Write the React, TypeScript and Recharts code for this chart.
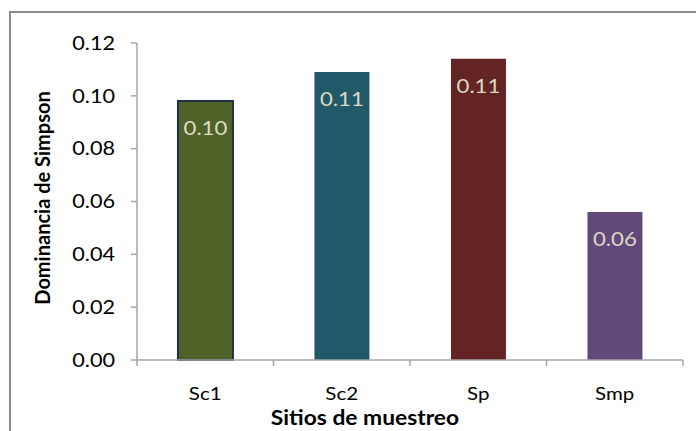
import React from "react";
import { BarChart, Bar, XAxis, YAxis, Cell, LabelList } from "recharts";

const sites = ["Sc1", "Sc2", "Sp", "Smp"];
const dominance = [0.098, 0.109, 0.114, 0.056];
const barColors = ["#4f6228", "#215968", "#632523", "#604a7b"];
const yTicks = [0, 0.02, 0.04, 0.06, 0.08, 0.1, 0.12];

const data = sites.map((site, i) => ({ site, value: dominance[i] }));

const W = 696;
const H = 431;
const PLOT_LEFT = 137;
const PLOT_RIGHT = 683;
const PLOT_TOP = 43;
const PLOT_BOTTOM = 360;
const Y_AXIS_W = 80;
const X_AXIS_H = 60;
const FONT = "Lato, 'Open Sans', sans-serif";
const AXIS_GRAY = "#a6a6a6";
const STRETCH = 1.14;

const band = (PLOT_RIGHT - PLOT_LEFT) / sites.length;

// horizontal text is drawn a little wider than the font, scaled about its anchor x
const widen = (x: number) => `matrix(${STRETCH},0,0,1,${x - STRETCH * x},0)`;

function ValueTick(props: any) {
  const { x, y, payload } = props;
  return (
    <text x={x} y={y} dy="0.36em" textAnchor="end" fontSize={19} fill="#000" fontFamily={FONT} transform={widen(x)}>
      {Number(payload.value).toFixed(2)}
    </text>
  );
}

// category label plus Excel-style tick marks on the band edges
function SiteTick(props: any) {
  const { x, payload, index } = props;
  const left = x - band / 2;
  return (
    <g>
      <line x1={left} y1={PLOT_BOTTOM} x2={left} y2={PLOT_BOTTOM + 6} stroke={AXIS_GRAY} strokeWidth={1.5} />
      {index === sites.length - 1 && (
        <line x1={left + band} y1={PLOT_BOTTOM} x2={left + band} y2={PLOT_BOTTOM + 6} stroke={AXIS_GRAY} strokeWidth={1.5} />
      )}
      <text x={x} y={400} textAnchor="middle" fontSize={18} fill="#000" fontFamily={FONT} transform={widen(x)}>
        {payload.value}
      </text>
    </g>
  );
}

function BarValue(props: any) {
  const { x, y, width, value } = props;
  const cx = x + width / 2;
  return (
    <text x={cx} y={y + 34} textAnchor="middle" fontSize={19.5} fill="#ddd9c3" fontFamily={FONT} transform={widen(cx)}>
      {Number(value).toFixed(2)}
    </text>
  );
}

export default function App() {
  return (
    <div style={{ position: "absolute", left: 0, top: 0, width: W, height: H, background: "#fff", overflow: "hidden" }}>
      <div
        style={{
          position: "absolute",
          left: 9,
          top: 11,
          width: 700,
          height: 440,
          border: "2px solid #8c8c8c",
          boxSizing: "border-box",
        }}
      />
      <BarChart
        width={W}
        height={H}
        data={data}
        barCategoryGap="30%"
        margin={{
          top: PLOT_TOP,
          right: W - PLOT_RIGHT,
          bottom: H - PLOT_BOTTOM - X_AXIS_H,
          left: PLOT_LEFT - Y_AXIS_W,
        }}
        style={{ position: "absolute", left: 0, top: 0 }}
      >
        <YAxis
          width={Y_AXIS_W}
          domain={[0, 0.12]}
          ticks={yTicks}
          axisLine={{ stroke: AXIS_GRAY, strokeWidth: 1.5 }}
          tickLine={{ stroke: AXIS_GRAY, strokeWidth: 1.5 }}
          tickSize={6}
          tickMargin={16}
          tick={<ValueTick />}
          label={() => (
            <text
              x={42}
              y={198}
              transform="rotate(-90, 42, 198)"
              textAnchor="middle"
              dominantBaseline="central"
              fontSize={20}
              fontWeight="bold"
              fontFamily={FONT}
              fill="#000"
            >
              Dominancia de Simpson
            </text>
          )}
        />
        <XAxis
          dataKey="site"
          height={X_AXIS_H}
          axisLine={{ stroke: AXIS_GRAY, strokeWidth: 1.5 }}
          tickLine={false}
          tick={<SiteTick />}
          interval={0}
          label={() => (
            <text
              x={365}
              y={425}
              textAnchor="middle"
              fontSize={20}
              fontWeight="bold"
              fontFamily={FONT}
              fill="#000"
              transform={widen(365)}
            >
              Sitios de muestreo
            </text>
          )}
        />
        <Bar dataKey="value" isAnimationActive={false}>
          {data.map((d, i) => (
            <Cell
              key={d.site}
              fill={barColors[i]}
              stroke={i === 0 ? "#1f2f48" : "none"}
              strokeWidth={i === 0 ? 2 : 0}
            />
          ))}
          <LabelList dataKey="value" content={<BarValue />} />
        </Bar>
      </BarChart>
    </div>
  );
}
